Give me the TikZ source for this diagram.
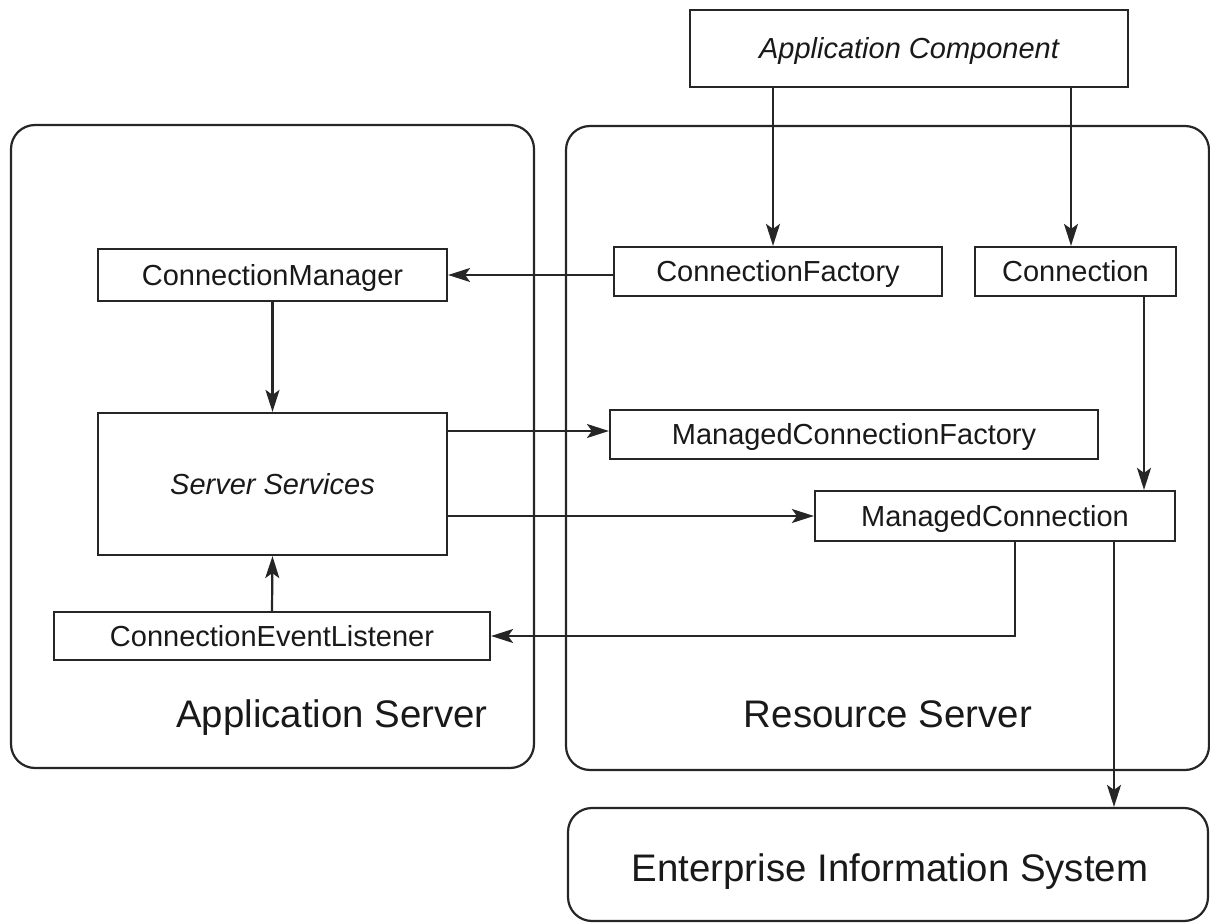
\documentclass[tikz,border=0pt]{standalone}
\usepackage{fontspec}
\setmainfont{Liberation Sans}
\usetikzlibrary{arrows.meta}

\begin{document}
\begin{tikzpicture}[x=0.5pt,y=-0.5pt,
    box/.style={draw=black!85, line width=1.1pt, inner sep=0pt, text=black!90,
                text height=10.4pt, text depth=0pt, font=\fontsize{14.5}{17}\selectfont},
    srv/.style={draw=black!85, line width=1.1pt, rounded corners=12pt, inner sep=0pt},
    big/.style={text=black!90, text height=13.8pt, text depth=0pt, font=\fontsize{19.2}{23}\selectfont},
    arr/.style={draw=black!85, line width=1.1pt, -{Stealth[length=11pt,width=7pt,inset=2.5pt]}}]
   \useasboundingbox (0,0) rectangle (1210,924);
   \node[srv, minimum width=261.5pt, minimum height=321.5pt] (appsrv) at (272.5,446.5) {};
   \node[srv, minimum width=321.5pt, minimum height=322pt] (ressrv) at (887.5,448) {};
   \node[srv, minimum width=320pt, minimum height=56.5pt] (eis) at (888,864.5) {};
   \node[big] (eislbl) at (890,868) {Enterprise Information System};
   \node[big] (appsrvlbl) at (332,714) {Application Server};
   \node[big] (ressrvlbl) at (888,714) {Resource Server};
   \node[box, minimum width=219pt, minimum height=38.5pt, font=\fontsize{14.5}{17}\selectfont\itshape] (appcomp) at (909,48.5) {Application Component};
   \node[box, minimum width=174.5pt, minimum height=26pt] (cmgr) at (272.5,275) {ConnectionManager};
   \node[box, minimum width=164pt, minimum height=24.5pt] (cfact) at (778,271.5) {ConnectionFactory};
   \node[box, minimum width=100.5pt, minimum height=24.5pt] (conn) at (1075.5,271.5) {Connection};
   \node[box, minimum width=174.5pt, minimum height=71pt, font=\fontsize{14.5}{17}\selectfont\itshape] (srvsvc) at (272.5,484) {Server Services};
   \node[box, minimum width=244pt, minimum height=24.5pt] (mcf) at (854,434.5) {ManagedConnectionFactory};
   \node[box, minimum width=180pt, minimum height=25pt] (mc) at (995,516) {ManagedConnection};
   \node[box, minimum width=218pt, minimum height=24pt] (cel) at (272,636) {ConnectionEventListener};
   \draw[arr] (appcomp.south -| 773,0) -- (cfact.north -| 773,0);
   \draw[arr] (appcomp.south -| 1071,0) -- (conn.north -| 1071,0);
   \draw[arr] (cfact.west |- 0,275) -- (cmgr.east |- 0,275);
   \draw[arr] (cmgr.south) -- (srvsvc.north);
   \draw[arr] (srvsvc.east |- 0,431) -- (mcf.west |- 0,431);
   \draw[arr] (srvsvc.east |- mc.west) -- (mc.west);
   \draw[arr] (conn.south -| 1144,0) -- (mc.north -| 1144,0);
   \draw[arr] (mc.south -| 1015,0) |- (cel.east);
   \draw[arr] (cel.north) -- (srvsvc.south);
   \draw[arr] (mc.south -| 1114,0) -- (eis.north -| 1114,0);
\end{tikzpicture}
\end{document}
